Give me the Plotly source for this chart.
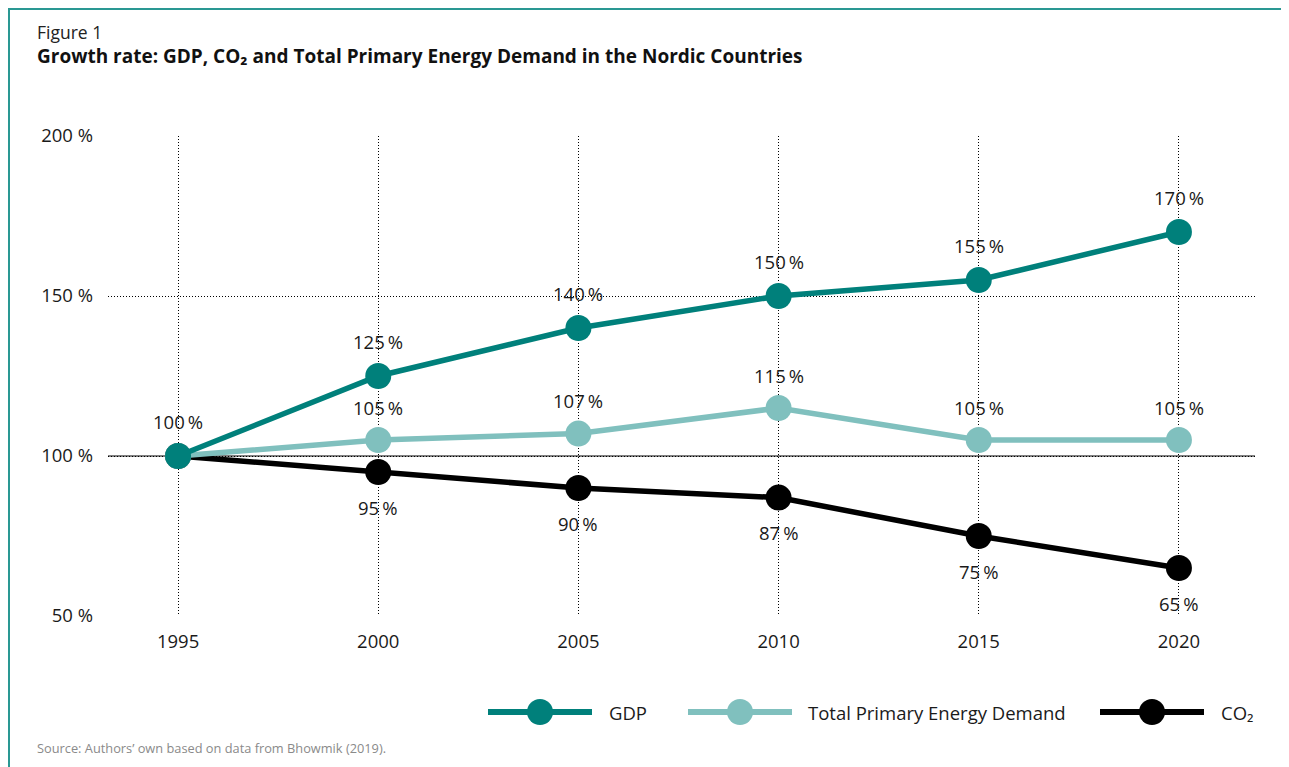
import plotly.graph_objects as go

years = [1995, 2000, 2005, 2010, 2015, 2020]
gdp = [100, 125, 140, 150, 155, 170]
tped = [100, 105, 107, 115, 105, 105]
co2 = [100, 95, 90, 87, 75, 65]

series_names = ["GDP", "Total Primary Energy Demand", "CO₂"]
y_ticks = [50, 100, 150, 200]

GDP_COL = "#00807b"
TPED_COL = "#80c0be"
CO2_COL = "#000000"
FRAME_COL = "#2a9893"
FONT = "Open Sans, Noto Sans, sans-serif"
TXT = "#1a1a1a"

# the page body adds an 8px margin, so everything is laid out 8px up/left
OFF = 8
W, H = 1289 - OFF, 767 - OFF
L, R, T, B = 108 - OFF, 34, 136 - OFF, 151
PW, PH = W - L - R, H - T - B


def px(x):
    return (x - OFF - L) / PW


def py(y):
    return 1 - (y - OFF - T) / PH


def pct(v):
    return f"{v}\u2009%"


fig = go.Figure()

for name, vals, col in [("GDP", gdp, GDP_COL), ("TPED", tped, TPED_COL), ("CO2", co2, CO2_COL)][::-1]:
    fig.add_trace(
        go.Scatter(
            x=years,
            y=vals,
            mode="lines+markers",
            name=name,
            line={"color": col, "width": 5.5},
            marker={"color": col, "size": 26},
            showlegend=False,
            hoverinfo="skip",
        )
    )

annotations = []
for yr, v in zip(years, gdp):
    annotations.append(dict(x=yr, y=v, text=pct(v), yshift=35, showarrow=False))
for yr, v in list(zip(years, tped))[1:]:
    annotations.append(dict(x=yr, y=v, text=pct(v), yshift=33, showarrow=False))
for yr, v in list(zip(years, co2))[1:]:
    annotations.append(dict(x=yr, y=v, text=pct(v), yshift=-35, showarrow=False))
for a in annotations:
    a["font"] = {"size": 18.5, "color": TXT, "family": FONT}

# titles and source
annotations += [
    dict(xref="paper", yref="paper", x=px(35), y=py(32), xanchor="left", yanchor="middle",
         text="Figure 1", showarrow=False, font={"size": 17.5, "color": "#222", "family": FONT}),
    dict(xref="paper", yref="paper", x=px(35), y=py(56), xanchor="left", yanchor="middle",
         text="<b>Growth rate: GDP, CO₂ and Total Primary Energy Demand in the Nordic Countries</b>",
         showarrow=False, font={"size": 19, "color": "#111", "family": FONT}),
    dict(xref="paper", yref="paper", x=px(35), y=py(748), xanchor="left", yanchor="middle",
         text="Source: Authors’ own based on data from Bhowmik (2019).",
         showarrow=False, font={"size": 12.8, "color": "#8a8a8a", "family": FONT}),
]

shapes = [
    # frame
    dict(type="line", xref="paper", yref="paper", x0=px(8), x1=px(1300), y0=py(9), y1=py(9),
         line={"color": FRAME_COL, "width": 2}),
    dict(type="line", xref="paper", yref="paper", x0=px(9), x1=px(9), y0=py(9), y1=py(780),
         line={"color": FRAME_COL, "width": 2}),
    # 100 % baseline
    dict(type="line", xref="paper", yref="y", x0=0, x1=1, y0=100, y1=100, layer="below",
         line={"color": "#000", "width": 1.2}),
]

# custom legend
leg_y = py(712)
for name, col, lx, tx in [(series_names[0], GDP_COL, 488, 607),
                          (series_names[1], TPED_COL, 688, 806),
                          (series_names[2], CO2_COL, 1100, 1219)]:
    shapes.append(dict(type="line", xref="paper", yref="paper", x0=px(lx), x1=px(lx + 104),
                       y0=leg_y, y1=leg_y, line={"color": col, "width": 6}))
    shapes.append(dict(type="circle", xref="paper", yref="paper", xsizemode="pixel", ysizemode="pixel",
                       xanchor=px(lx + 52), yanchor=leg_y, x0=-13, x1=13, y0=-13, y1=13,
                       fillcolor=col, line={"width": 0}))
    annotations.append(dict(xref="paper", yref="paper", x=px(tx), y=leg_y, xanchor="left",
                            yanchor="middle", text=name, showarrow=False,
                            font={"size": 18.5, "color": TXT, "family": FONT}))

grid = dict(showgrid=True, gridcolor="#000", gridwidth=1, griddash="1px,2px", zeroline=False,
            showline=False, ticks="", tickfont={"size": 18.5, "color": TXT, "family": FONT})

fig.update_layout(
    width=W,
    height=H,
    margin={"l": L, "r": R, "t": T, "b": B},
    paper_bgcolor="white",
    plot_bgcolor="white",
    showlegend=False,
    shapes=shapes,
    annotations=annotations,
    xaxis=dict(range=[1993.25, 2021.9], tickvals=years, ticklabelstandoff=12, **grid),
    yaxis=dict(range=[50, 200], tickvals=y_ticks, ticktext=[f"{v} %" for v in y_ticks],
               ticklabelstandoff=14, **grid),
)

fig.write_html("out.html")
